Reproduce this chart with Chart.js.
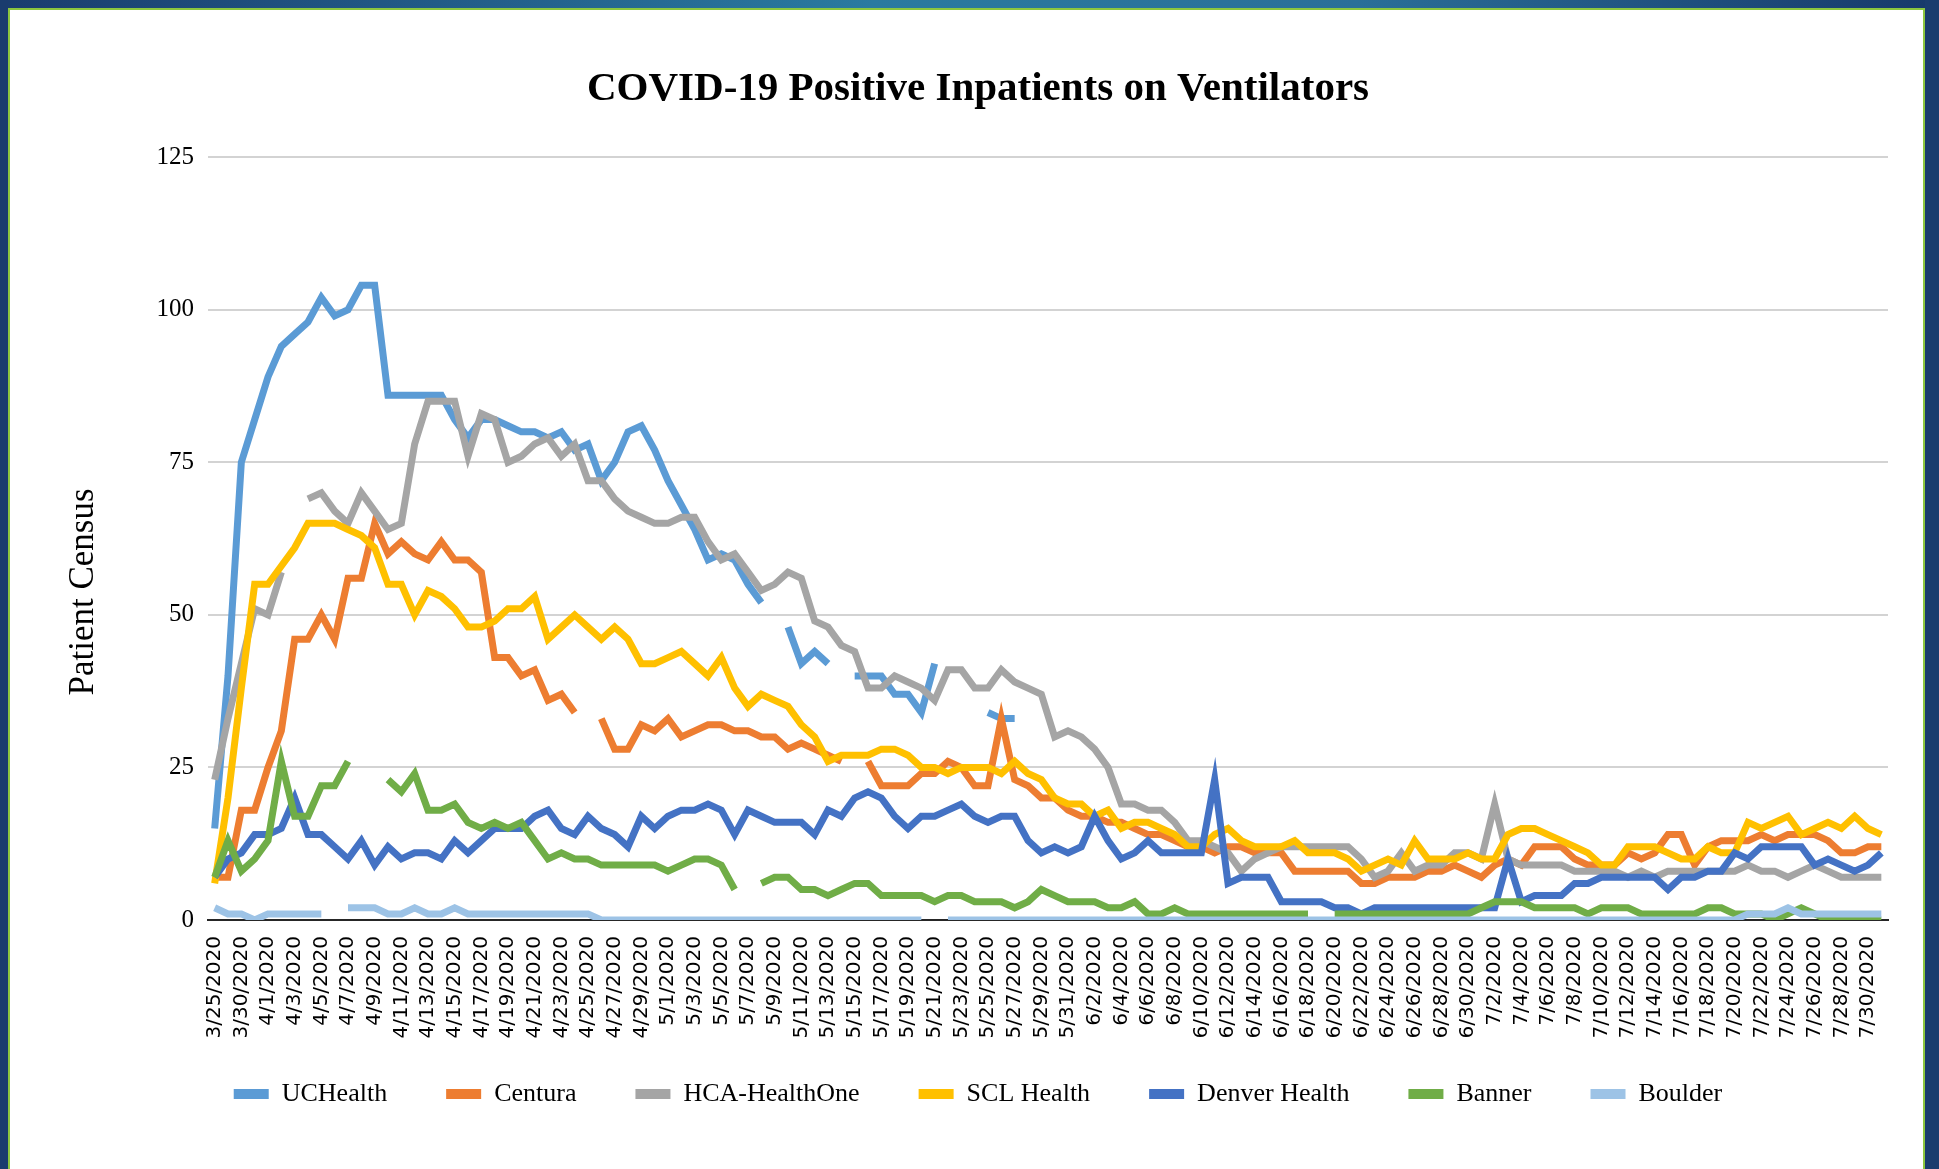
<!DOCTYPE html>
<html>
<head>
<meta charset="utf-8">
<script src="https://cdn.jsdelivr.net/npm/chart.js@4.4.1/dist/chart.umd.min.js"></script>
<style>
html,body{margin:0;padding:0;background:#ffffff;overflow:hidden;}
#wrap{position:absolute;left:0;top:0;width:1939px;height:1169px;}
#c{position:absolute;left:0;top:0;}
.frame{position:absolute;}
#topbar{left:0;top:0;width:1939px;height:8px;background:linear-gradient(90deg,#1a3c6e 0%,#2a7aa0 45%,#2a6f98 70%,#17386a 100%);}
#topline{left:0;top:8px;width:1939px;height:2px;background:#8cc63f;}
#leftbar{left:0;top:0;width:8px;height:1169px;background:#1a3c6e;}
#leftline{left:8px;top:8px;width:2px;height:1161px;background:#8cc63f;}
#rightbar{left:1925px;top:0;width:14px;height:1169px;background:#1a3c6e;}
#rightline{left:1923px;top:8px;width:2px;height:1161px;background:#8cc63f;}
</style>
</head>
<body>
<div id="wrap">
<canvas id="c" width="1939" height="1169"></canvas>
<div class="frame" id="topbar"></div>
<div class="frame" id="topline"></div>
<div class="frame" id="leftbar"></div>
<div class="frame" id="leftline"></div>
<div class="frame" id="rightbar"></div>
<div class="frame" id="rightline"></div>
</div>
<script>
const categories = [
"3/25/2020","3/29/2020","3/30/2020","3/31/2020",
"4/1/2020","4/2/2020","4/3/2020","4/4/2020","4/5/2020","4/6/2020","4/7/2020","4/8/2020","4/9/2020","4/10/2020",
"4/11/2020","4/12/2020","4/13/2020","4/14/2020","4/15/2020","4/16/2020","4/17/2020","4/18/2020","4/19/2020","4/20/2020",
"4/21/2020","4/22/2020","4/23/2020","4/24/2020","4/25/2020","4/26/2020","4/27/2020","4/28/2020","4/29/2020","4/30/2020",
"5/1/2020","5/2/2020","5/3/2020","5/4/2020","5/5/2020","5/6/2020","5/7/2020","5/8/2020","5/9/2020","5/10/2020",
"5/11/2020","5/12/2020","5/13/2020","5/14/2020","5/15/2020","5/16/2020","5/17/2020","5/18/2020","5/19/2020","5/20/2020",
"5/21/2020","5/22/2020","5/23/2020","5/24/2020","5/25/2020","5/26/2020","5/27/2020","5/28/2020","5/29/2020","5/30/2020","5/31/2020",
"6/1/2020","6/2/2020","6/3/2020","6/4/2020","6/5/2020","6/6/2020","6/7/2020","6/8/2020","6/9/2020","6/10/2020",
"6/11/2020","6/12/2020","6/13/2020","6/14/2020","6/15/2020","6/16/2020","6/17/2020","6/18/2020","6/19/2020","6/20/2020",
"6/21/2020","6/22/2020","6/23/2020","6/24/2020","6/25/2020","6/26/2020","6/27/2020","6/28/2020","6/29/2020","6/30/2020",
"7/1/2020","7/2/2020","7/3/2020","7/4/2020","7/5/2020","7/6/2020","7/7/2020","7/8/2020","7/9/2020","7/10/2020",
"7/11/2020","7/12/2020","7/13/2020","7/14/2020","7/15/2020","7/16/2020","7/17/2020","7/18/2020","7/19/2020","7/20/2020",
"7/21/2020","7/22/2020","7/23/2020","7/24/2020","7/25/2020","7/26/2020","7/27/2020","7/28/2020","7/29/2020","7/30/2020","7/31/2020"
];

const seriesNames = ["UCHealth","Centura","HCA-HealthOne","SCL Health","Denver Health","Banner","Boulder"];
const seriesColors = ["#5B9BD5","#ED7D31","#A5A5A5","#FFC000","#4472C4","#70AD47","#9DC3E6"];

const ucHealth = [
15,40,75,82,89,94,96,98,102,99,
100,104,104,86,86,86,86,86,82,79,
82,82,81,80,80,79,80,77,78,72,
75,80,81,77,72,68,64,59,60,59,
55,52,null,48,42,44,42,null,40,40,
40,37,37,34,42,null,null,null,34,33,
33,null,null,null,null,null,null,null,null,null,
null,null,null,null,null,null,null,null,null,null,
null,null,null,null,null,null,null,null,null,null,
null,null,null,null,null,null,null,null,null,null,
null,null,null,null,null,null,null,null,null,null,
null,null,null,null,null,null,null,null,null,null,
null,null,null,null,null,null
];
const centura = [
7,7,18,18,25,31,46,46,50,46,
56,56,65,60,62,60,59,62,59,59,
57,43,43,40,41,36,37,34,null,33,
28,28,32,31,33,30,31,32,32,31,
31,30,30,28,29,28,27,26,null,26,
22,22,22,24,24,26,25,22,22,33,
23,22,20,20,18,17,17,16,16,15,
14,14,13,12,12,11,12,12,11,11,
11,8,8,8,8,8,6,6,7,7,
7,8,8,9,8,7,9,10,9,12,
12,12,10,9,9,9,11,10,11,14,
14,9,12,13,13,13,14,13,14,14,
14,13,11,11,12,12
];
const hcaHealthOne = [
23,33,42,51,50,57,null,69,70,67,
65,70,67,64,65,78,85,85,85,76,
83,82,75,76,78,79,76,78,72,72,
69,67,66,65,65,66,66,62,59,60,
57,54,55,57,56,49,48,45,44,38,
38,40,39,38,36,41,41,38,38,41,
39,38,37,30,31,30,28,25,19,19,
18,18,16,13,13,12,11,8,10,11,
12,12,12,12,12,12,10,7,8,11,
8,9,9,11,11,10,19,10,9,9,
9,9,8,8,8,8,7,8,7,8,
8,8,8,8,8,9,8,8,7,8,
9,8,7,7,7,7
];
const sclHealth = [
6,20,38,55,55,58,61,65,65,65,
64,63,61,55,55,50,54,53,51,48,
48,49,51,51,53,46,48,50,48,46,
48,46,42,42,43,44,42,40,43,38,
35,37,36,35,32,30,26,27,27,27,
28,28,27,25,25,24,25,25,25,24,
26,24,23,20,19,19,17,18,15,16,
16,15,14,12,12,14,15,13,12,12,
12,13,11,11,11,10,8,9,10,9,
13,10,10,10,11,10,10,14,15,15,
14,13,12,11,9,9,12,12,12,11,
10,10,12,11,11,16,15,16,17,14,
15,16,15,17,15,14
];
const denverHealth = [
7,10,11,14,14,15,20,14,14,12,
10,13,9,12,10,11,11,10,13,11,
13,15,15,15,17,18,15,14,17,15,
14,12,17,15,17,18,18,19,18,14,
18,17,16,16,16,14,18,17,20,21,
20,17,15,17,17,18,19,17,16,17,
17,13,11,12,11,12,17,13,10,11,
13,11,11,11,11,23,6,7,7,7,
3,3,3,3,2,2,1,2,2,2,
2,2,2,2,2,2,2,10,3,4,
4,4,6,6,7,7,7,7,7,5,
7,7,8,8,11,10,12,12,12,12,
9,10,9,8,9,11
];
const banner = [
7,13,8,10,13,26,17,17,22,22,
26,null,null,23,21,24,18,18,19,16,
15,16,15,16,13,10,11,10,10,9,
9,9,9,9,8,9,10,10,9,5,
null,6,7,7,5,5,4,5,6,6,
4,4,4,4,3,4,4,3,3,3,
2,3,5,4,3,3,3,2,2,3,
1,1,2,1,1,1,1,1,1,1,
1,1,1,null,1,1,1,1,1,1,
1,1,1,1,1,2,3,3,3,2,
2,2,2,1,2,2,2,1,1,1,
1,1,2,2,1,1,1,0,1,2,
1,0,0,0,0,0
];
const boulder = [
2,1,1,0,1,1,1,1,1,null,
2,2,2,1,1,2,1,1,2,1,
1,1,1,1,1,1,1,1,1,0,
0,0,0,0,0,0,0,0,0,0,
0,0,0,0,0,0,0,0,0,0,
0,0,0,0,null,0,0,0,0,0,
0,0,0,0,0,0,0,0,0,0,
0,0,0,0,0,0,0,0,0,0,
0,0,0,0,0,0,0,0,0,0,
0,0,0,0,0,0,0,0,0,0,
0,0,0,0,0,0,0,0,0,0,
0,0,0,0,0,1,1,1,2,1,
1,1,1,1,1,1
];
const yTicks = [0,25,50,75,100,125];
const yAxisTitle = 'Patient Census';

const allSeries = [ucHealth, centura, hcaHealthOne, sclHealth, denverHealth, banner, boulder];

const datasets = allSeries.map((vals, i) => ({
  label: seriesNames[i],
  data: vals,
  borderColor: seriesColors[i],
  backgroundColor: seriesColors[i],
  borderWidth: 7,
  pointRadius: 0,
  pointHoverRadius: 0,
  tension: 0,
  spanGaps: false,
  borderJoinStyle: 'miter',
  borderCapStyle: 'butt',
  order: allSeries.length - i
}));

// y-axis title drawn beside the scale, a little below the scale centre as in the reference
const yTitlePlugin = {
  id: 'yTitlePlugin',
  afterDraw(chart) {
    const ctx = chart.ctx;
    const a = chart.chartArea;
    ctx.save();
    ctx.translate(84, a.top + 0.57 * (a.bottom - a.top));
    ctx.rotate(-Math.PI / 2);
    ctx.font = '35px "Liberation Serif"';
    ctx.fillStyle = '#000000';
    ctx.textAlign = 'center';
    ctx.textBaseline = 'middle';
    ctx.fillText(yAxisTitle, 0, 0);
    ctx.restore();
  }
};

new Chart(document.getElementById('c'), {
  type: 'line',
  data: { labels: categories, datasets: datasets },
  plugins: [yTitlePlugin],
  options: {
    responsive: false,
    animation: false,
    devicePixelRatio: 1,
    layout: { padding: { left: 17, right: 0, top: 0, bottom: 52 } },
    plugins: {
      title: {
        display: true,
        text: 'COVID-19 Positive Inpatients on Ventilators',
        color: '#000000',
        font: { family: 'Liberation Serif', size: 41, weight: 'bold' },
        padding: { top: 65, bottom: 43 }
      },
      legend: {
        position: 'bottom',
        labels: {
          color: '#000000',
          font: { family: 'Liberation Serif', size: 26 },
          boxWidth: 35,
          boxHeight: 10,
          padding: 59,
          generateLabels: (chart) => chart.data.datasets.map((ds, i) => ({
            text: ds.label,
            fillStyle: ds.borderColor,
            strokeStyle: ds.borderColor,
            lineWidth: 0,
            hidden: false,
            datasetIndex: i,
            fontColor: '#000000'
          }))
        }
      },
      tooltip: { enabled: false }
    },
    scales: {
      x: {
        type: 'category',
        offset: true,
        grid: { display: false, drawTicks: false },
        border: { display: true, color: '#262626', width: 2 },
        ticks: {
          autoSkip: false,
          minRotation: 90,
          maxRotation: 90,
          padding: 16,
          color: '#000000',
          font: { family: 'DejaVu Sans', size: 20 },
          callback: function(val, idx) { return idx % 2 === 0 ? this.getLabelForValue(val) : ''; }
        },
        afterFit: (s) => {
          s.height = 102;
          // let the long rotated date labels run past the (short) axis box instead of being clipped
          s._computeLabelArea = function() { return undefined; };
        }
      },
      y: {
        min: 0,
        max: 125,
        afterBuildTicks: (s) => { s.ticks = yTicks.map(v => ({ value: v })); },
        grid: {
          drawTicks: false,
          lineWidth: 2,
          color: (ctx) => (ctx.tick && ctx.tick.value === 0) ? '#262626' : '#d3d3d3'
        },
        border: { display: false },
        ticks: {
          padding: 14,
          color: '#000000',
          font: { family: 'Liberation Serif', size: 25 }
        },
        afterFit: (s) => { s.width = 191; }
      },
      yRight: {
        position: 'right',
        display: true,
        grid: { display: false, drawTicks: false },
        border: { display: false },
        ticks: { display: false },
        afterFit: (s) => { s.width = 51; }
      }
    }
  }
});
</script>
</body>
</html>
